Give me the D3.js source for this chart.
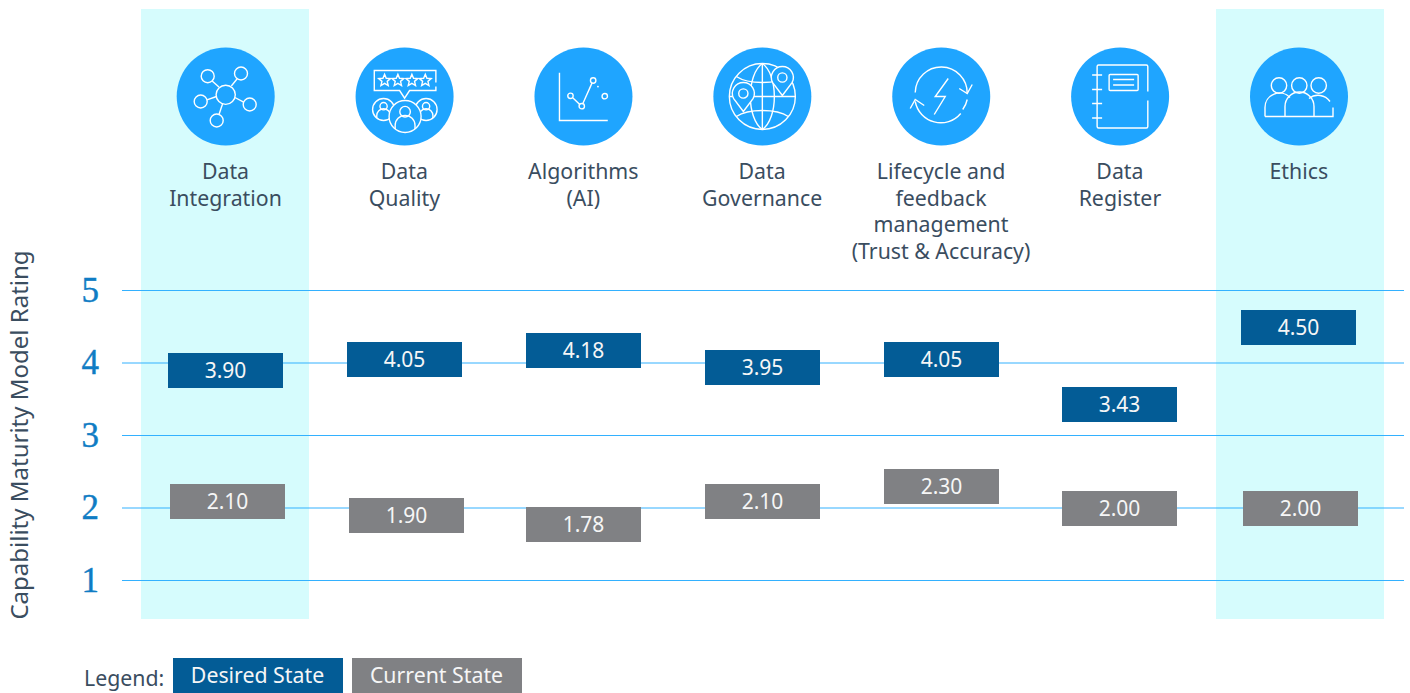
<!DOCTYPE html>
<html>
<head>
<meta charset="utf-8">
<script src="https://cdnjs.cloudflare.com/ajax/libs/d3/7.8.5/d3.min.js"></script>
<style>
  html, body { margin: 0; padding: 0; background: #fff; overflow: hidden; }
  text { font-family: "Noto Sans", sans-serif; }
</style>
</head>
<body>
<div id="chart"></div>
<script>
const categories = ['Data Integration', 'Data Quality', 'Algorithms (AI)', 'Data Governance', 'Lifecycle and feedback management (Trust & Accuracy)', 'Data Register', 'Ethics'];
const categoryLines = [
  ['Data', 'Integration'],
  ['Data', 'Quality'],
  ['Algorithms', '(AI)'],
  ['Data', 'Governance'],
  ['Lifecycle and', 'feedback', 'management', '(Trust & Accuracy)'],
  ['Data', 'Register'],
  ['Ethics']
];
const desiredState = [3.90, 4.05, 4.18, 3.95, 4.05, 3.43, 4.50];
const currentState = [2.10, 1.90, 1.78, 2.10, 2.30, 2.00, 2.00];
const highlighted = ['Data Integration', 'Ethics'];
const ratingTicks = [1, 2, 3, 4, 5];
const legendItems = ['Desired State', 'Current State'];

const colors = {
  desired: '#035c96',
  current: '#808184',
  band: '#d6fcfd',
  icon: '#1fa5ff',
  grid: '#33b1ff',
  tick: '#0f7cc4',
  text: '#3a4d5f'
};

const boxW = 115;
const boxH = 35;
// the current state boxes sit a little to the right in these columns
const currentNudge = [2, 2, 0, 0, 0, 0, 2];
const bandNudge = { 'Data Integration': -0.5, 'Ethics': 1.2 };

const svg = d3.select('#chart').append('svg')
  .attr('width', 1410)
  .attr('height', 693)
  .style('display', 'block');

const x = d3.scalePoint().domain(categories).range([225.5, 1298.8]);
const y = d3.scaleLinear().domain([1, 5]).range([580.5, 290.5]);

// highlighted columns
svg.append('g').selectAll('rect')
  .data(highlighted)
  .enter()
  .append('rect')
  .attr('x', d => x(d) + bandNudge[d] - 84)
  .attr('y', 9)
  .attr('width', 168)
  .attr('height', 610)
  .attr('fill', colors.band);

// rating axis
const axisG = svg.append('g')
  .attr('transform', 'translate(122,0)')
  .call(d3.axisLeft(y).offset(0).tickValues(ratingTicks).tickSize(-1282).tickPadding(23).tickFormat(d3.format('d')));
axisG.select('.domain').remove();
axisG.selectAll('.tick line').attr('stroke', colors.grid).attr('stroke-width', 1);
axisG.selectAll('.tick text')
  .style('font-family', '"Liberation Serif", serif')
  .style('font-size', '35px')
  .attr('fill', colors.tick)
  .attr('stroke', colors.tick)
  .attr('stroke-width', 0.4);

svg.append('text')
  .attr('transform', 'translate(28,435) rotate(-90)')
  .attr('text-anchor', 'middle')
  .style('font-size', '24px')
  .attr('fill', colors.text)
  .text('Capability Maturity Model Rating');

// rating boxes, snapped to whole pixels so the edges stay crisp
const drawBoxes = (values, color, nudge) => {
  const g = svg.append('g').selectAll('g')
    .data(values)
    .enter()
    .append('g')
    .attr('transform', (d, i) => {
      const left = Math.round(x(categories[i]) - boxW / 2) + nudge[i];
      const top = Math.round(y(d) + 0.5 - boxH / 2);
      return `translate(${left + boxW / 2},${top + boxH / 2})`;
    });
  g.append('rect')
    .attr('x', -boxW / 2)
    .attr('y', -boxH / 2)
    .attr('width', boxW)
    .attr('height', boxH)
    .attr('fill', color);
  g.append('text')
    .attr('text-anchor', 'middle')
    .attr('y', 7)
    .style('font-size', '21px')
    .attr('fill', '#f6f6f6')
    .text(d => d.toFixed(2));
};
drawBoxes(desiredState, colors.desired, categories.map(() => 0));
drawBoxes(currentState, colors.current, currentNudge);

// category labels
categoryLines.forEach((lines, i) => {
  const label = svg.append('text')
    .attr('text-anchor', 'middle')
    .style('font-size', '21.3px')
    .attr('fill', colors.text);
  lines.forEach((line, j) => {
    label.append('tspan')
      .attr('x', x(categories[i]))
      .attr('y', 179 + j * 26.6)
      .text(line);
  });
});

// icon helpers, coordinates are relative to the circle centre
const circle = (g, cx, cy, r) => g.append('circle').attr('cx', cx).attr('cy', cy).attr('r', r);
const path = (g, d) => g.append('path').attr('d', d);

const starPath = (cx, cy, r) => {
  let d = '';
  for (let i = 0; i < 10; i++) {
    const a = -Math.PI / 2 + i * Math.PI / 5;
    const rr = i % 2 ? r * 0.45 : r;
    d += (i ? 'L' : 'M') + (cx + rr * Math.cos(a)) + ',' + (cy + rr * Math.sin(a));
  }
  return d + 'Z';
};

// small round portrait: outline circle, head and shoulders
const portrait = (g, cx, cy, r) => {
  circle(g, cx, cy, r).attr('fill', colors.icon);
  circle(g, cx, cy - r * 0.3, r * 0.33);
  path(g, `M${cx - r * 0.62},${cy + r * 0.78}V${cy + r * 0.55}a${r * 0.62},${r * 0.62} 0 0 1 ${r * 1.24},0V${cy + r * 0.78}`);
};

const pin = (g, cx, cy, r, tip) => {
  path(g, `M${cx},${cy + tip}L${cx - r * 0.88},${cy + r * 0.47}A${r},${r} 0 1 1 ${cx + r * 0.88},${cy + r * 0.47}Z`)
    .attr('fill', colors.icon);
  circle(g, cx, cy, r * 0.42);
};

const iconDrawers = [
  g => {
    circle(g, 0, -1.7, 9.6);
    [[-18, -20.3, -6.8, -8.5], [15.3, -23, 5.6, -9.5], [-25, 5, -9.2, 1], [24, 8, 9.2, 2], [-9, 24, -3, 8]].forEach(s => {
      circle(g, s[0], s[1], 6.5);
      const len = Math.hypot(s[0] - s[2], s[1] - s[3]);
      const ux = (s[0] - s[2]) / len, uy = (s[1] - s[3]) / len;
      path(g, `M${s[2]},${s[3] - 1}L${s[0] - ux * 6.5},${s[1] - uy * 6.5}`);
    });
  },
  g => {
    path(g, 'M31.3,-14V-26H-30.3V-6H-5L0,1.7L5,-6H31.3V-10');
    [-20, -6.7, 7.3, 20.7].forEach(sx => path(g, starPath(sx, -16, 6.2)));
    portrait(g, -21, 13, 11);
    portrait(g, 21.5, 13, 11);
    portrait(g, 0.5, 20, 16);
  },
  g => {
    path(g, 'M-24,-23.7V24H24.3');
    [[-13, -0.7], [-1.7, 9.7], [9.7, -16], [21.3, -0.3]].forEach(p => circle(g, p[0], p[1], 2.7));
    path(g, 'M-11,1L-3.7,8M-0.6,7L8.5,-13.4');
    path(g, 'M14,-10.5l1,1.2');
  },
  g => {
    circle(g, 0, 0, 33);
    path(g, 'M0,-33V33M-33,0H33');
    path(g, 'M0,-33C-16,-22 -16,22 0,33M0,-33C16,-22 16,22 0,33');
    path(g, 'M-26,-20C-14,-12 14,-12 26,-20M-26,20C-14,12 14,12 26,20');
    pin(g, -19, -3, 11, 18);
    pin(g, 20, -19, 11, 18);
  },
  g => {
    path(g, 'M-26,-4A26,26 0 0 1 26,-3');
    path(g, 'M26,3A26,26 0 0 1 21.5,13M19.5,17A26,26 0 0 1 -26,5');
    path(g, 'M18,-8L26,-3L31,-12');
    path(g, 'M-31,12L-26,3L-17,9');
    path(g, 'M7,-18L-6,0H4L-7,18');
  },
  g => {
    path(g, 'M27.7,-5V-30a1.5,1.5 0 0 0 -1.5,-1.5H-21.5a1.5,1.5 0 0 0 -1.5,1.5V30a1.5,1.5 0 0 0 1.5,1.5H26.2a1.5,1.5 0 0 0 1.5,-1.5V4');
    path(g, 'M-28,-21.5H-18M-28,-7H-18M-28,7H-18M-28,21.5H-18');
    g.append('rect').attr('x', -11).attr('y', -22).attr('width', 29).attr('height', 16).attr('rx', 1);
    path(g, 'M-7,-17H14M-7,-11.5H14');
  },
  g => {
    circle(g, -20, -11, 7.7);
    circle(g, 0.3, -11, 7.7);
    circle(g, 19.7, -11, 7.7);
    path(g, 'M-34,20V11a14.5,14.5 0 0 1 25,-10');
    path(g, 'M-14,20V10a14.5,14.5 0 0 1 29,0V20');
    path(g, 'M10,2a14.5,14.5 0 0 1 21,3M34,11V20H-34');
  }
];

// icons
categories.forEach((c, i) => {
  const g = svg.append('g').attr('transform', `translate(${x(c) + 0.2},96.5)`);
  g.append('circle').attr('r', 49).attr('fill', colors.icon);
  const lines = g.append('g')
    .attr('fill', 'none')
    .attr('stroke', '#fff')
    .attr('stroke-width', 1.4);
  iconDrawers[i](lines);
});

// legend
svg.append('text')
  .attr('x', 84)
  .attr('y', 686)
  .style('font-size', '21.3px')
  .attr('fill', colors.text)
  .text('Legend:');

const legendColors = d3.scaleOrdinal().domain(legendItems).range([colors.desired, colors.current]);
const legendX = d3.scalePoint().domain(legendItems).range([173, 352]);
const legendG = svg.append('g').selectAll('g')
  .data(legendItems)
  .enter()
  .append('g')
  .attr('transform', d => `translate(${legendX(d)},658)`);
legendG.append('rect')
  .attr('width', 170)
  .attr('height', 35)
  .attr('fill', d => legendColors(d));
legendG.append('text')
  .attr('x', 84.5)
  .attr('y', 25)
  .attr('text-anchor', 'middle')
  .style('font-size', '21.3px')
  .attr('fill', '#f6f6f6')
  .text(d => d);
</script>
</body>
</html>
